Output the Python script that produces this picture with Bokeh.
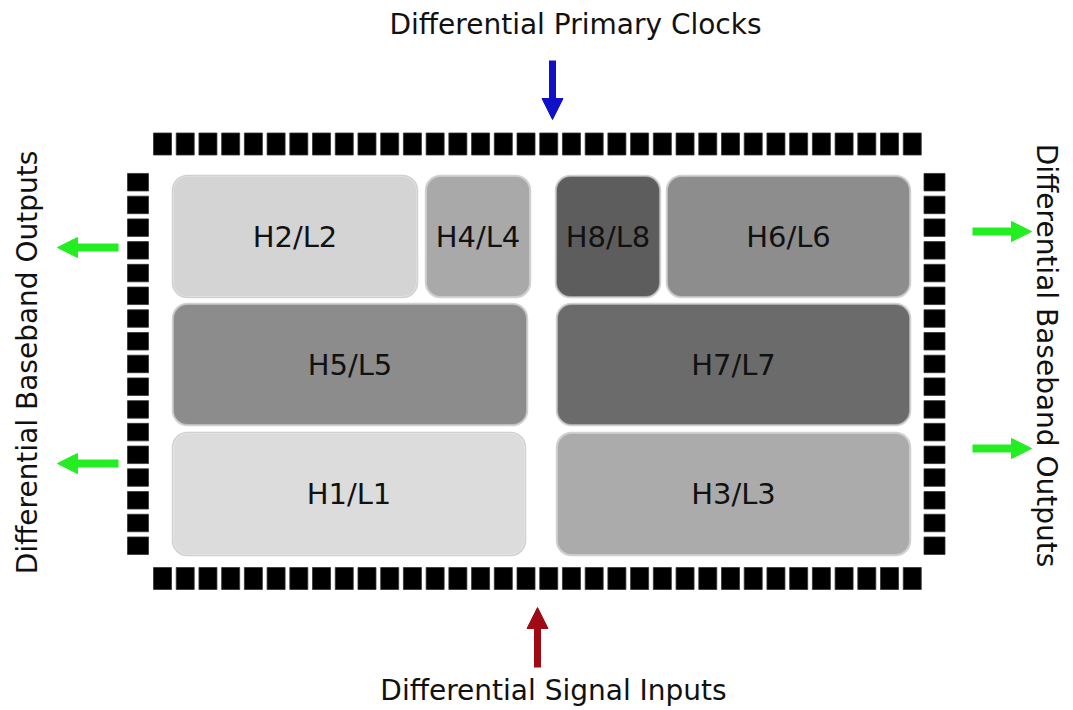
import numpy as np
from bokeh.plotting import figure
from bokeh.models import Range1d, Arrow, NormalHead, ColumnDataSource
from bokeh.core.properties import value
from bokeh.embed import file_html
from bokeh.resources import INLINE

# ---- data: functional blocks (page pixel coordinates) ----
block_labels = ["H2/L2", "H4/L4", "H8/L8", "H6/L6", "H5/L5", "H7/L7", "H1/L1", "H3/L3"]
block_left = [172, 425, 555, 666, 172, 556, 172, 556]
block_right = [417, 530, 660, 910, 527, 910, 525, 910]
block_top = [175, 175, 175, 175, 303, 303, 432, 432]
block_bottom = [297, 297, 297, 297, 425, 425, 555, 555]
block_fill = ["#d4d4d4", "#a9a9a9", "#5d5d5d", "#8d8d8d", "#8c8c8c", "#6b6b6b", "#dcdcdc", "#ababab"]

# ---- pads ----
pads_top_count = 34
pads_side_count = 17
pad_pitch = 22.72

# ---- labels ----
top_label = "Differential Primary Clocks"
bottom_label = "Differential Signal Inputs"
side_label = "Differential Baseband Outputs"

W, H = 1065, 708
p = figure(width=W, height=H, output_backend="svg", toolbar_location=None,
           x_range=Range1d(0, W), y_range=Range1d(H, 0),
           min_border=0, outline_line_color=None, background_fill_color="white")
p.axis.visible = False
p.grid.visible = False

font = value("DejaVu Sans")

# pads: top and bottom rows
xs_row = 153 + 9 + np.arange(pads_top_count) * pad_pitch
p.rect(x=xs_row, y=np.full(pads_top_count, 143.5), width=18, height=22,
       fill_color="black", line_color="#333333", line_width=0.8)
p.rect(x=xs_row, y=np.full(pads_top_count, 578.0), width=18, height=22,
       fill_color="black", line_color="#333333", line_width=0.8)
# pads: left and right columns
ys_col = 173 + 8.7 + np.arange(pads_side_count) * pad_pitch
p.rect(x=np.full(pads_side_count, 137.5), y=ys_col, width=21, height=17.5,
       fill_color="black", line_color="#333333", line_width=0.8)
p.rect(x=np.full(pads_side_count, 934.0), y=ys_col, width=21, height=17.5,
       fill_color="black", line_color="#333333", line_width=0.8)

# blocks
src = ColumnDataSource(dict(left=block_left, right=block_right, top=block_top,
                            bottom=block_bottom, fill=block_fill, label=block_labels,
                            cx=[(a + b) / 2 for a, b in zip(block_left, block_right)],
                            cy=[(a + b) / 2 for a, b in zip(block_top, block_bottom)]))
p.quad(left="left", right="right", top="top", bottom="bottom", source=src,
       fill_color="fill", line_color="#b8b8b8", line_width=1.5, border_radius=15)
p.quad(left="left", right="right", top="top", bottom="bottom", source=src,
       fill_color=None, line_color="white", line_alpha=0.35, line_width=3, border_radius=15)
p.text(x="cx", y="cy", text="label", source=src, text_font=font, text_font_size="29px",
       text_align="center", text_baseline="middle", text_color="#111111")

# arrows
p.add_layout(Arrow(x_start=552, y_start=60, x_end=552, y_end=119, line_width=7,
                   line_color="#1010c8",
                   end=NormalHead(size=21, fill_color="#1010c8", line_color="#1010c8")))
p.add_layout(Arrow(x_start=537, y_start=667, x_end=537, y_end=607, line_width=7,
                   line_color="#a00a14",
                   end=NormalHead(size=21, fill_color="#a00a14", line_color="#a00a14")))
for yy in (247, 463):
    p.add_layout(Arrow(x_start=118, y_start=yy, x_end=57, y_end=yy, line_width=8,
                       line_color="#22ee22",
                       end=NormalHead(size=20, fill_color="#22ee22", line_color="#22ee22")))
for yy in (231, 448):
    p.add_layout(Arrow(x_start=972, y_start=yy, x_end=1031, y_end=yy, line_width=8,
                       line_color="#22ee22",
                       end=NormalHead(size=20, fill_color="#22ee22", line_color="#22ee22")))

# labels
p.text(x=[575], y=[24], text=[top_label], text_font=font, text_font_size="28px",
       text_align="center", text_baseline="middle", text_color="#111111")
p.text(x=[553], y=[690], text=[bottom_label], text_font=font, text_font_size="28px",
       text_align="center", text_baseline="middle", text_color="#111111")
p.text(x=[27], y=[362], text=[side_label], text_font=font, text_font_size="28px",
       text_align="center", text_baseline="middle", text_color="#111111", angle=np.pi / 2)
p.text(x=[1046], y=[355], text=[side_label], text_font=font, text_font_size="28px",
       text_align="center", text_baseline="middle", text_color="#111111", angle=-np.pi / 2)

open("out.html", "w").write(file_html(p, INLINE))
